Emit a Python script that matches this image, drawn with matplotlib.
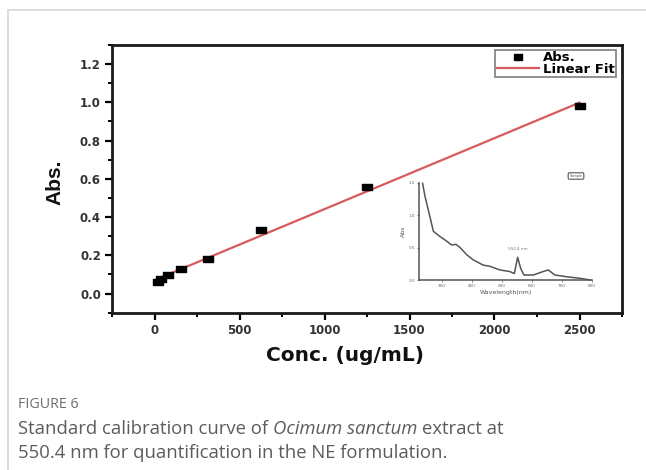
import numpy as np
import matplotlib.pyplot as plt
from matplotlib.ticker import MultipleLocator, FormatStrFormatter
from matplotlib.lines import Line2D

# calibration standards (ug/mL) and measured absorbance
conc = [19.5, 39, 78, 156, 312.5, 625, 1250, 2500]
absorb = [0.062, 0.075, 0.095, 0.128, 0.18, 0.335, 0.558, 0.98]

x_ticks = [0, 500, 1000, 1500, 2000, 2500]
y_ticks = [0.0, 0.2, 0.4, 0.6, 0.8, 1.0, 1.2]

# UV-vis scan of the extract shown in the inset
wavelength = [236, 244, 255, 272, 294, 316, 333, 347, 361, 383, 405, 438, 461,
              494, 527, 542, 553, 563, 574, 605, 638, 655, 677, 716, 761, 796]
spec_abs = [1.49, 1.29, 1.08, 0.75, 0.67, 0.6, 0.54, 0.55, 0.5, 0.39, 0.31, 0.23,
            0.21, 0.155, 0.13, 0.10, 0.35, 0.18, 0.077, 0.077, 0.13, 0.155, 0.077,
            0.05, 0.026, 0.0]
spec_xticks = [300, 400, 500, 600, 700, 800]
spec_yticks = [0.0, 0.5, 1.0, 1.5]

W, H = 646, 470
fig = plt.figure(figsize=(W / 100, H / 100), dpi=100)
fig.patch.set_facecolor('white')

# card outline
fig.add_artist(Line2D([8 / W, 1], [1 - 10 / H] * 2, color='#d6d6d6', lw=1.2))
fig.add_artist(Line2D([8 / W] * 2, [0, 1 - 10 / H], color='#d6d6d6', lw=1.2))

bold = dict(family='DejaVu Sans', fontweight='bold')
# Origin-style flat square marker
box = [(-1.35, -0.9), (1.35, -0.9), (1.35, 0.9), (-1.35, 0.9), (-1.35, -0.9)]

ax = fig.add_axes([112 / W, 1 - 312.7 / H, 510 / W, 267.7 / H])
slope, intercept = np.polyfit(conc, absorb, 1)
fit_x = np.array([min(conc), max(conc)])
ax.plot(fit_x, slope * fit_x + intercept, color='#d95a5a', lw=1.6, zorder=2)
ax.plot(conc, absorb, ls='none', marker=box, color='black', ms=7, zorder=3)

ax.set_xlim(-250, 2750)
ax.set_ylim(-0.1, 1.3)
ax.set_xticks(x_ticks)
ax.set_yticks(y_ticks)
ax.xaxis.set_minor_locator(MultipleLocator(250))
ax.yaxis.set_minor_locator(MultipleLocator(0.1))
ax.yaxis.set_major_formatter(FormatStrFormatter('%.1f'))
for s in ax.spines.values():
    s.set_linewidth(2)
    s.set_color('#1a1a1a')
ax.tick_params(which='major', direction='out', length=5, width=1.6, pad=3,
               labelsize=8.5, labelcolor='#333333')
ax.tick_params(which='minor', direction='out', length=3, width=1.4)
for lbl in ax.get_xticklabels() + ax.get_yticklabels():
    lbl.set_fontweight('bold')

ax.set_xlabel('Conc. (ug/mL)', fontsize=14.5, color='#111111', labelpad=8, **bold)
ax.xaxis.set_label_coords((345 - 112) / 510, -0.125)
fig.text(55 / W, 1 - 182 / H, 'Abs.', rotation=90, ha='center', va='center',
         fontsize=15, fontweight='bold', color='#111111',
         family=['Liberation Sans Narrow', 'Liberation Sans'])

handles = [Line2D([], [], ls='none', marker=box, color='black', ms=5.5),
           Line2D([], [], color='#d95a5a', lw=1.6)]
leg = ax.legend(handles, ['Abs.', 'Linear Fit'], loc='upper right',
                bbox_to_anchor=(0.988, 0.982), prop=dict(size=9.5, weight='bold'),
                fancybox=False, edgecolor='#888888', framealpha=1,
                labelspacing=-0.1, borderpad=0.1, handlelength=3.2,
                handletextpad=0.3, borderaxespad=0)
leg.get_frame().set_linewidth(1.3)

# inset: absorption spectrum
axi = fig.add_axes([419.3 / W, 1 - 280 / H, 172.4 / W, 97.3 / H])
axi.set_facecolor('none')
axi.plot(wavelength, spec_abs, color='#555555', lw=1.1, clip_on=False)
axi.set_xlim(225, 800)
axi.set_ylim(0, 1.5)
axi.set_xticks(spec_xticks)
axi.set_yticks(spec_yticks)
axi.yaxis.set_major_formatter(FormatStrFormatter('%.1f'))
for side in ['top', 'right']:
    axi.spines[side].set_visible(False)
for side in ['left', 'bottom']:
    axi.spines[side].set_linewidth(1.1)
    axi.spines[side].set_color('#555555')
axi.tick_params(direction='out', length=1.5, width=0.6, pad=1.5,
                labelsize=3, labelcolor='#666666', color='#666666')
axi.set_xlabel('Wavelength(nm)', fontsize=4.5, color='#555555', labelpad=1.5)
axi.set_ylabel('Abs', fontsize=4.5, color='#555555', labelpad=2)
axi.text(553, 0.46, '550.4 nm', fontsize=3, ha='center', color='#777777')
fig.text(576 / W, 1 - 176 / H, 'Sample', fontsize=2.5, ha='center', va='center',
         color='#555555',
         bbox=dict(boxstyle='round,pad=0.35', fc='white', ec='#555555', lw=0.8))

# caption
cap = dict(family='Open Sans', color='#5c5c5c', fontsize=13.3, va='center')
fig.text(18 / W, 1 - 404 / H, 'FIGURE 6', family='Open Sans', color='#6e6e6e',
         fontsize=10.3, va='center')

renderer = fig.canvas.get_renderer()


def text_width(s, style):
    t = fig.text(0, 0, s, style=style, **cap)
    w = t.get_window_extent(renderer).width
    t.remove()
    return w


def caption_line(parts, y_px):
    x = 18.0
    for i, (s, style) in enumerate(parts):
        t = fig.text(x / W, 1 - y_px / H, s, style=style, **cap)
        x += t.get_window_extent(renderer).width
        if i < len(parts) - 1:
            x += text_width('x x', 'normal') - text_width('xx', 'normal')


caption_line([('Standard calibration curve of', 'normal'),
              ('Ocimum sanctum', 'italic'),
              ('extract at', 'normal')], 429)
caption_line([('550.4 nm for quantification in the NE formulation.', 'normal')], 453)

fig.savefig('out.png', dpi=100)
